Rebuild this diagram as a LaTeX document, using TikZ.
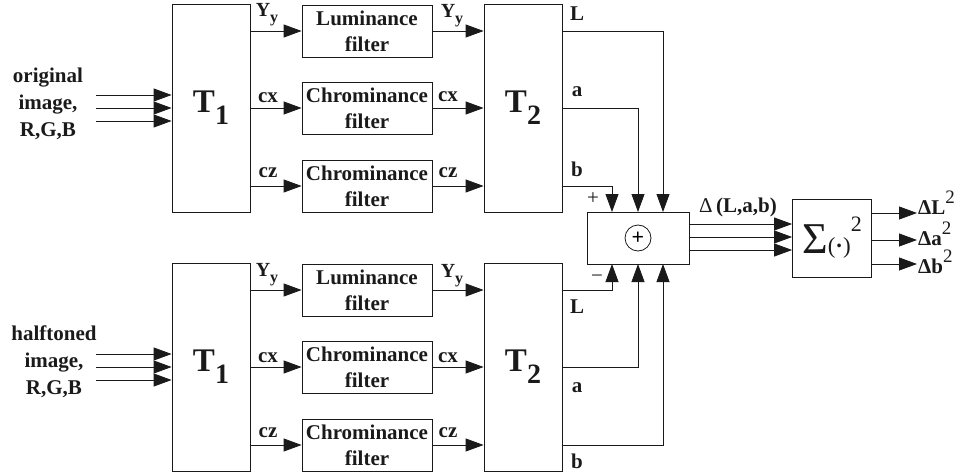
\documentclass[tikz,border=0pt]{standalone}
\usepackage{fontspec}
\setmainfont{Liberation Serif}
\usetikzlibrary{arrows.meta,positioning}
\definecolor{ink}{HTML}{1A1A1A}
\tikzset{
  blk/.style={draw=ink,line width=.8pt,minimum width=78pt,minimum height=208pt,inner sep=0pt,font=\fontsize{33}{33}\selectfont\bfseries,text=ink},
  flt/.style={draw=ink,line width=.8pt,minimum width=130pt,minimum height=52pt,inner sep=0pt,align=center,font=\fontsize{21}{26}\selectfont\bfseries,text=ink},
  lbl/.style={font=\fontsize{21}{27}\selectfont\bfseries,text=ink,inner sep=0pt},
  sgn/.style={font=\fontsize{21}{21}\selectfont,text=ink,inner sep=0pt},
  ar/.style={-{Triangle[length=18pt,width=13pt]},draw=ink,line width=.8pt},
}
\newcommand\subT[1]{\raisebox{-12pt}{\fontsize{28}{28}\selectfont #1}}
\newcommand\Yy{{\fontsize{20}{20}\selectfont Y}\raisebox{-6pt}{\fontsize{16}{16}\selectfont y}}
\newcommand\supsq{\raisebox{11pt}{\fontsize{19}{19}\selectfont\mdseries 2}}
\begin{document}
\begin{tikzpicture}[x=1pt,y=-1pt]
  \useasboundingbox (0,0) rectangle (956,476);
  % ── original image ──
  \begin{scope}
    \node[lbl,align=center] (srco) at (48,104) {original\\image,\\R,G,B};
    \node[blk] (t1o) at (211,108) {T\subT{1}};
    \node[flt] (lumo) at (367,31) {Luminance\\filter};
    \node[flt] (cxo) at (367,108) {Chrominance\\filter};
    \node[flt] (czo) at (367,186) {Chrominance\\filter};
    \node[blk] (t2o) at (523,108) {T\subT{2}};
    \coordinate (ino1) at (96,95); \coordinate (ino2) at (96,108); \coordinate (ino3) at (96,121);
    \foreach \i in {1,2,3} \draw[ar] (ino\i) -- (ino\i -| t1o.west);
    \foreach \f in {lumo,cxo,czo} {
      \draw[ar] (t1o.east |- \f) -- (\f.west);
      \draw[ar] (\f.east) -- (\f.east -| t2o.west);
    }
    \node[lbl,anchor=base] (yo1) at (267,17) {\Yy};
    \node[lbl,anchor=base] (cxo1) at (268,103) {cx};
    \node[lbl,anchor=base] (czo1) at (268,178) {cz};
    \node[lbl,anchor=base] (yo2) at (452,18) {\Yy};
    \node[lbl,anchor=base] (cxo2) at (448,102) {cx};
    \node[lbl,anchor=base] (czo2) at (448,178) {cz};
    \node[lbl,anchor=base] (lo) at (577,21) {L};
    \node[lbl,anchor=base] (ao) at (577,97) {a};
    \node[lbl,anchor=base] (bo) at (577,177) {b};
  \end{scope}
  % ── halftoned image ──
  \begin{scope}
    \node[lbl,align=center] (srch) at (54,362) {halftoned\\image,\\R,G,B};
    \node[blk] (t1h) at (211,367) {T\subT{1}};
    \node[flt] (lumh) at (367,290) {Luminance\\filter};
    \node[flt] (cxh) at (367,367) {Chrominance\\filter};
    \node[flt] (czh) at (367,445) {Chrominance\\filter};
    \node[blk] (t2h) at (523,367) {T\subT{2}};
    \coordinate (inh1) at (96,354); \coordinate (inh2) at (96,367); \coordinate (inh3) at (96,380);
    \foreach \i in {1,2,3} \draw[ar] (inh\i) -- (inh\i -| t1h.west);
    \foreach \f in {lumh,cxh,czh} {
      \draw[ar] (t1h.east |- \f) -- (\f.west);
      \draw[ar] (\f.east) -- (\f.east -| t2h.west);
    }
    \node[lbl,anchor=base] (yh1) at (267,276) {\Yy};
    \node[lbl,anchor=base] (cxh1) at (268,362) {cx};
    \node[lbl,anchor=base] (czh1) at (268,437) {cz};
    \node[lbl,anchor=base] (yh2) at (452,277) {\Yy};
    \node[lbl,anchor=base] (cxh2) at (448,362) {cx};
    \node[lbl,anchor=base] (czh2) at (448,437) {cz};
    \node[lbl,anchor=base] (lh) at (577,313) {L};
    \node[lbl,anchor=base] (ah) at (577,392) {a};
    \node[lbl,anchor=base] (bh) at (577,468) {b};
  \end{scope}
  % ── difference ──
  \node[draw=ink,line width=.8pt,minimum width=102pt,minimum height=52pt] (diff) at (638,238) {};
  \node[circle,draw=ink,line width=.8pt,minimum size=26pt,inner sep=0pt,font=\fontsize{22}{22}\selectfont\bfseries] (oplus) at (diff.center) {+};
  \coordinate (dtb) at (612,212); \coordinate (dta) at (638,212); \coordinate (dtL) at (663,212);
  \coordinate (dbL) at (612,264); \coordinate (dba) at (638,264); \coordinate (dbb) at (663,264);
  \draw[ar] (t2o.east |- lumo) -| (dtL);
  \draw[ar] (t2o.east |- cxo) -| (dta);
  \draw[ar] (t2o.east |- czo) -| (dtb);
  \draw[ar] (t2h.east |- lumh) -| (dbL);
  \draw[ar] (t2h.east |- cxh) -| (dba);
  \draw[ar] (t2h.east |- czh) -| (dbb);
  \node[sgn] (pl) at (593,199) {+};
  \node[sgn] (mi) at (597,279) {−};
  % ── squared error ──
  \node[draw=ink,line width=.8pt,minimum width=79pt,minimum height=78pt,inner sep=0pt,text=ink] (sig) at (832,238)
    {{\fontsize{44}{44}\selectfont Σ}{\fontsize{23}{23}\selectfont(\textbf{·})}\raisebox{22pt}{\fontsize{22}{22}\selectfont 2}};
  \foreach \s in {14,1,-12} \draw[ar] ([yshift=\s pt]diff.east) -- ([yshift=\s pt]sig.west);
  \node[lbl,anchor=base] (dlab) at (738,212) {{\mdseries Δ}\,(L,a,b)};
  \coordinate (oL) at (917,213); \coordinate (oa) at (917,240); \coordinate (ob) at (917,264);
  \foreach \o in {oL,oa,ob} \draw[ar] (\o -| sig.east) -- (\o);
  \node[lbl,anchor=base west] (eL) at (918,214) {ΔL\supsq};
  \node[lbl,anchor=base west] (ea) at (918,245) {Δa\supsq};
  \node[lbl,anchor=base west] (eb) at (918,273) {Δb\supsq};
\end{tikzpicture}
\end{document}
